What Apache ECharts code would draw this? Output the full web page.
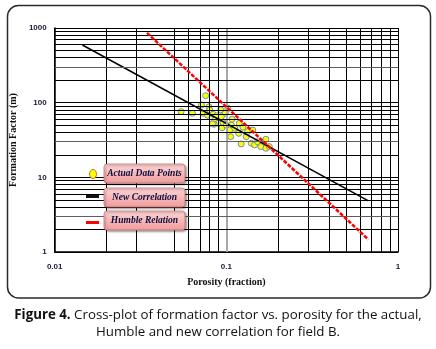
<!DOCTYPE html>
<html>
<head>
<meta charset="utf-8">
<script src="https://cdn.jsdelivr.net/npm/echarts@6/dist/echarts.min.js"></script>
<style>
  html, body { margin: 0; padding: 0; background: #ffffff; }
  #chart { width: 436px; height: 349px; }
</style>
</head>
<body>
<div id="chart"></div>
<script>
// Measured porosity (fraction) and formation factor for field B
var porosity = [0.0545, 0.0634, 0.0757, 0.0716, 0.0733, 0.0776, 0.0791, 0.080, 0.0837, 0.0875,
                0.0927, 0.102, 0.0986, 0.0935, 0.0855, 0.0895, 0.0957, 0.0849, 0.083, 0.0944,
                0.100, 0.107, 0.1045, 0.112, 0.119, 0.106, 0.118, 0.122, 0.133, 0.1426,
                0.1306, 0.1397, 0.146, 0.152, 0.163, 0.170, 0.159, 0.170, 0.178, 0.108, 0.125];
var formationFactor = [75.8, 72.1, 124, 93, 72, 68, 88, 80, 70, 67,
                       80, 84, 72, 65, 58.6, 53, 54, 51.4, 52, 46,
                       50, 50, 43, 45.4, 53, 35, 38.9, 28, 41, 43,
                       35, 28.6, 27.2, 30, 27.2, 32.4, 25.8, 24.5, 25.8, 60, 47];

// Correlation lines, given by their end points (porosity, F)
var newCorrelationPhi = [0.0145, 0.672];
var newCorrelationF = [592, 4.83];
var humblePhi = [0.0345, 0.672];
var humbleF = [860, 1.47];

// Axis labels and grid positions
var xTickLabels = ['0.01', '0.1', '1'];
var yTickLabels = ['1', '10', '100', '1000'];
var xGridValues = [0.01, 0.02, 0.03, 0.05, 0.06, 0.07, 0.08, 0.09, 0.1,
                   0.2, 0.3, 0.4, 0.5, 0.6, 0.7, 0.8, 0.9, 1];
var yGridValues = [1, 2, 3, 4, 5, 6, 7, 8, 9, 10, 20, 30, 40, 50, 60, 70, 80, 90,
                   100, 200, 300, 400, 500, 600, 700, 800, 900, 1000];

var legendNames = ['Actual Data Points', 'New Correlation', 'Humble Relation'];

function pairs(xs, ys) {
  return xs.map(function (x, i) { return [x, ys[i]]; });
}

var gridLines = [];
xGridValues.forEach(function (v) {
  var grey = (v === 0.1);
  gridLines.push({ xAxis: v, lineStyle: { color: grey ? '#a8a8a8' : '#000000', width: grey ? 2 : 1, type: 'solid' } });
});
yGridValues.forEach(function (v) {
  var m = v / Math.pow(10, Math.floor(Math.log10(v) + 1e-9));
  var grey = Math.abs(m - 3) < 1e-6;
  gridLines.push({ yAxis: v, lineStyle: { color: grey ? '#5e5e5e' : '#000000', width: 1, type: 'solid' } });
});

var chart = echarts.init(document.getElementById('chart'), null, { renderer: 'canvas' });

var serifBold = { fontFamily: 'Liberation Serif', fontWeight: 'bold', fontSize: 10, color: '#111111' };
var tickFont = { fontFamily: 'Liberation Sans', fontWeight: 'bold', fontSize: 8, color: '#1a1a3a' };

function legendBox(y, label) {
  return {
    type: 'group',
    z: 100,
    children: [
      {
        type: 'rect',
        z: 100,
        shape: { x: 104, y: y, width: 81, height: 19, r: 3 },
        style: {
          fill: new echarts.graphic.LinearGradient(0, 0, 0, 1, [
            { offset: 0, color: '#fcd6d6' },
            { offset: 1, color: '#f09a9a' }
          ]),
          stroke: '#c87070',
          lineWidth: 0.8,
          shadowBlur: 2,
          shadowOffsetX: 1.5,
          shadowOffsetY: 1.5,
          shadowColor: 'rgba(0,0,0,0.35)'
        }
      },
      {
        type: 'text',
        z: 101,
        style: {
          x: 144.5, y: y + 9.5,
          text: label,
          align: 'center', verticalAlign: 'middle',
          fontFamily: 'Liberation Serif', fontWeight: 'bold', fontStyle: 'italic',
          fontSize: 9.5, fill: '#0d0d40'
        }
      }
    ]
  };
}

chart.setOption({
  animation: false,
  backgroundColor: '#ffffff',
  grid: { left: 52, right: 38, top: 28, bottom: 97 },
  xAxis: {
    type: 'log', logBase: 10, min: 0.01, max: 1,
    name: 'Porosity (fraction)', nameLocation: 'middle', nameGap: 25,
    nameTextStyle: serifBold,
    axisLine: { show: true, lineStyle: { color: '#000000', width: 1.5 } },
    axisTick: { show: false },
    splitLine: { show: false },
    minorSplitLine: { show: false },
    axisLabel: Object.assign({
      margin: 11,
      formatter: function (v) {
        var i = Math.round(Math.log10(v)) + 2;
        return xTickLabels[i] || '';
      }
    }, tickFont)
  },
  yAxis: {
    type: 'log', logBase: 10, min: 1, max: 1000,
    name: 'Formation Factor (m)', nameLocation: 'middle', nameGap: 35,
    nameTextStyle: serifBold,
    axisLine: { show: true, lineStyle: { color: '#000000', width: 1.5 } },
    axisTick: { show: false },
    splitLine: { show: false },
    minorSplitLine: { show: false },
    axisLabel: Object.assign({
      margin: 8,
      formatter: function (v) {
        var i = Math.round(Math.log10(v));
        return yTickLabels[i] || '';
      }
    }, tickFont)
  },
  series: [
    {
      name: 'grid',
      type: 'line',
      data: [],
      silent: true,
      z: 1,
      markLine: {
        silent: true,
        symbol: ['none', 'none'],
        label: { show: false },
        animation: false,
        data: gridLines
      }
    },
    {
      name: legendNames[0],
      type: 'scatter',
      data: pairs(porosity, formationFactor),
      symbol: 'circle',
      symbolSize: 6,
      z: 3,
      itemStyle: { color: '#ffff00', borderColor: '#6f8fb8', borderWidth: 1, opacity: 1 }
    },
    {
      name: legendNames[1],
      type: 'line',
      data: pairs(newCorrelationPhi, newCorrelationF),
      showSymbol: false,
      z: 4,
      lineStyle: { color: '#000000', width: 1.5 }
    },
    {
      name: legendNames[2],
      type: 'line',
      data: pairs(humblePhi, humbleF),
      showSymbol: false,
      z: 5,
      lineStyle: { color: '#ff0000', width: 2.5, type: [4, 1.5] }
    }
  ],
  graphic: [
    // outer frame
    {
      type: 'rect', z: 0,
      shape: { x: 7.5, y: 5.5, width: 423, height: 292.5, r: 11 },
      style: { fill: 'none', stroke: '#2a2a2a', lineWidth: 1.5 }
    },
    // legend symbols
    {
      type: 'ellipse', z: 100,
      shape: { cx: 93, cy: 174, rx: 3.5, ry: 4.5 },
      style: { fill: '#ffff00', stroke: '#d07020', lineWidth: 1 }
    },
    {
      type: 'rect', z: 100,
      shape: { x: 86, y: 195, width: 13, height: 3 },
      style: { fill: '#111111' }
    },
    {
      type: 'rect', z: 100,
      shape: { x: 86, y: 221, width: 13, height: 3 },
      style: { fill: '#ff0000' }
    },
    legendBox(164, legendNames[0]),
    legendBox(188, legendNames[1]),
    legendBox(211, legendNames[2]),
    // caption
    {
      type: 'text',
      style: {
        x: 218, y: 315,
        text: '{b|Figure 4.} Cross-plot of formation factor vs. porosity for the actual,',
        align: 'center', verticalAlign: 'middle',
        fontFamily: 'Open Sans', fontSize: 13.3, fill: '#111111',
        rich: {
          b: { fontFamily: 'Open Sans', fontWeight: 'bold', fontSize: 13.3, fill: '#111111' }
        }
      }
    },
    {
      type: 'text',
      style: {
        x: 218, y: 332,
        text: 'Humble and new correlation for field B.',
        align: 'center', verticalAlign: 'middle',
        fontFamily: 'Open Sans', fontSize: 13.3, fill: '#111111'
      }
    }
  ]
});
</script>
</body>
</html>
